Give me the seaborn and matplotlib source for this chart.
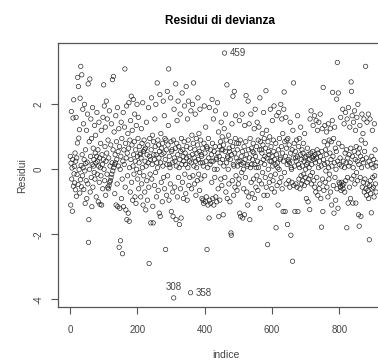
import numpy as np
import pandas as pd
import seaborn as sns
import matplotlib
matplotlib.use("Agg")
import matplotlib.pyplot as plt

residui = [
    0.40, -1.10, 0.19, 1.78, -0.30, 0.04, -1.29, 0.30, 1.58, -0.52,
    2.14, -0.14, 0.09, -0.42, 0.50, -0.63, 0.25, 1.60, -0.83, 0.35,
    -0.16, 0.81, 2.83, -0.47, 2.55, 0.96, -0.01, 1.22, -0.73, 2.19,
    -0.32, 3.17, 0.12, -0.54, 2.91, 0.45, -0.20, 1.85, 0.05, 1.40,
    -0.62, 0.30, 2.00, -0.05, -1.05, 0.60, 0.18, -0.35, 1.20, -0.90,
    0.22, 1.70, -0.45, 2.63, -2.25, -1.55, 0.85, 0.00, 2.78, -0.70,
    0.40, 1.55, -0.25, 0.95, -1.15, 0.15, 1.90, -0.55, 0.65, 0.10,
    0.30, -0.10, 1.35, -0.30, 0.50, 1.05, 0.20, -0.85, 0.40, 1.75,
    -0.15, 0.25, 0.60, -1.00, 0.10, 1.45, -0.40, 0.35, -1.08, 0.05,
    0.80, -0.20, 1.20, -1.10, 0.45, 0.15, -0.60, 1.60, 0.30, 2.60,
    0.00, 1.95, -0.35, 0.70, 1.30, -0.80, 0.25, 2.10, 0.50, -0.15,
    1.55, -0.55, 0.90, -0.60, 0.35, -0.50, 1.80, -0.40, 0.10, -0.35,
    0.75, -0.25, 1.40, -0.15, 0.20, 2.76, -0.05, 0.60, 2.86, 0.05,
    1.15, 0.15, -0.75, 0.45, 0.20, 1.65, -1.10, 0.85, 0.30, -0.45,
    1.90, -1.15, 0.55, 0.10, 1.25, -2.40, 0.70, -1.20, 0.00, -2.20,
    0.40, 1.45, -0.90, 0.95, -0.30, -2.60, 0.25, 1.75, -1.15, 0.60,
    0.15, 1.30, 3.09, -0.55, 0.80, -1.25, 0.35, 1.95, -1.55, 0.50,
    -0.20, 1.10, -1.35, 0.65, 2.05, -1.60, 0.05, 0.90, -0.70, 1.50,
    0.30, 2.25, -0.40, 0.75, 1.20, -0.95, 0.10, 2.15, 0.45, -0.15,
    0.85, 1.70, -0.85, 0.25, 0.60, -1.05, 1.35, 0.00, 2.00, 0.40,
    -0.30, 0.95, 1.60, -0.60, 0.20, 0.70, -0.10, 0.45, 0.50, -0.85,
    0.35, 1.25, -0.45, 0.80, 0.05, 2.05, -1.10, 0.55, -0.20, 0.90,
    0.60, -0.70, 0.25, 0.65, -1.25, 0.10, 1.45, -0.35, 0.45, -0.95,
    0.75, 0.20, 1.90, -0.55, -2.90, 0.40, 0.95, -0.15, 0.30, -1.65,
    0.60, 2.20, -0.30, 0.15, 1.05, -1.14, -1.65, 0.85, 0.45, 0.30,
    -0.50, 1.55, 0.70, -0.10, 2.00, 0.45, -0.85, 0.20, 2.66, 0.05,
    0.90, -0.65, 0.75, 0.35, -1.35, 0.55, 2.30, -1.45, 0.20, 1.10,
    -0.40, 0.65, 0.45, -1.00, 0.80, 0.10, 2.10, -0.25, 0.50, 1.65,
    -0.60, 0.95, 0.30, -2.47, 0.90, 0.60, -0.80, 0.15, 2.40, -0.20,
    0.75, 1.35, 3.09, -0.95, 0.40, 0.15, 0.05, -0.45, 2.20, 0.85,
    -1.30, 0.55, 0.60, 0.20, -0.70, -1.45, 0.90, -3.96, 1.85, 0.35,
    -0.55, 0.25, 0.65, 2.63, -1.55, 0.10, 0.80, 1.50, -0.85, 0.45,
    2.10, -0.25, 0.70, 0.05, -1.70, 0.30, 1.70, -0.60, 0.55, -1.50,
    0.95, 0.15, 2.35, -0.40, 0.60, 0.40, -0.90, 0.25, 0.85, 1.95,
    -0.15, 0.50, 0.15, -0.75, 2.55, 0.35, 0.70, -0.95, 1.55, 0.05,
    0.90, 2.10, -0.50, 0.40, 0.25, -0.25, 0.65, -3.80, 1.80, 0.20,
    -0.60, 1.05, 0.45, 2.00, -0.20, 0.80, 2.66, 0.10, 0.35, -0.45,
    0.60, 1.70, 0.25, -0.80, 0.95, 0.05, 0.50, -0.35, 0.75, 2.20,
    0.30, -0.15, 1.10, 0.55, -0.65, 1.85, 0.20, 0.90, -0.30, 0.45,
    0.40, -0.90, 0.65, 0.20, -0.95, 0.10, -1.05, 0.80, 1.95, -0.20,
    0.50, -1.00, 1.30, 0.25, -0.85, 0.70, -2.47, 0.65, 0.05, -1.10,
    0.95, 0.35, -1.50, 1.90, -0.95, 0.15, 0.60, -1.05, 0.25, 0.45,
    -0.40, 2.15, 0.80, -0.90, 0.25, 1.55, -1.10, 0.55, 0.00, -0.25,
    0.70, 1.80, -0.85, 0.30, 0.35, -1.00, 0.00, 2.05, 0.50, -0.60,
    1.15, -1.45, 0.40, 0.70, -0.95, 0.20, 0.85, -0.30, 1.45, 0.60,
    -0.50, 1.00, 0.30, 0.60, -1.40, 0.75, 0.10, 1.25, 3.58, -0.25,
    0.55, 1.70, -0.70, 0.90, 0.20, 2.60, -0.90, 0.40, 0.35, 0.00,
    1.05, -0.45, 0.65, 0.55, -1.00, 0.30, 0.85, -1.96, -2.03, 0.45,
    1.40, -0.35, 0.70, 2.25, 0.15, -0.80, 0.10, 2.40, 0.50, -0.55,
    0.95, 1.65, -0.20, 0.35, 0.80, -0.65, 0.60, 0.10, 0.25, -0.45,
    0.80, -0.30, 1.50, -1.35, 0.25, 0.90, -1.45, 0.15, 0.40, -0.10,
    1.70, 0.55, -1.50, 0.20, 0.00, -0.60, 0.70, -1.40, 1.35, 0.30,
    -0.25, 0.85, 2.27, 0.45, -0.70, 0.10, 0.15, -1.10, 2.10, 0.60,
    -0.85, 1.40, 0.35, -1.55, 0.95, 0.05, 1.70, -0.40, 0.65, 0.15,
    -0.75, 0.30, 0.55, 0.80, -0.30, 0.50, 1.25, -0.90, 0.15, 1.85,
    0.40, -0.55, 0.05, 0.70, -0.20, 1.45, 0.25, -0.65, 0.90, 0.05,
    1.30, -0.35, 0.60, 2.20, -1.20, 0.85, 0.20, 0.60, -0.45, 0.50,
    1.10, -0.10, 0.75, 0.30, 1.75, -0.80, 0.95, 0.15, 0.40, -0.25,
    0.65, 2.42, -0.55, 1.20, 0.35, -0.80, -2.32, 0.85, 0.00, 0.55,
    0.45, -0.40, 1.00, 0.25, 1.85, -0.20, 0.70, 0.25, -0.60, 0.40,
    1.50, 0.10, -0.35, 0.90, 0.55, 1.95, -0.70, 0.30, 0.15, -0.15,
    0.80, -1.80, 0.45, 1.65, -0.50, 0.20, 0.05, -1.10, 0.60, 1.75,
    0.00, 0.95, -0.40, 0.30, 0.35, 2.00, -0.25, 0.70, 1.55, -0.60,
    0.50, 1.10, -1.30, 0.25, 1.85, 2.38, -0.10, 0.85, -1.30, 0.40,
    1.60, -0.45, 0.65, 0.90, 0.15, -1.70, 0.95, 0.30, 0.25, -0.35,
    0.75, 0.20, -0.55, 1.45, 0.50, -2.03, 0.05, 0.00, -0.40, 0.60,
    -2.83, 1.20, 0.35, 2.66, -0.50, 0.80, 0.10, -1.30, 0.55, 0.35,
    -0.45, 0.25, 0.90, -0.55, 0.40, 1.65, -1.30, 0.15, 0.70, -0.30,
    0.95, 0.05, -0.60, 0.45, 1.30, -0.20, 0.30, -0.45, 0.60, 0.10,
    -0.35, 0.50, 0.80, -0.15, 0.25, -0.50, 1.10, 0.35, -0.25, 0.00,
    0.40, -0.90, 0.15, -0.40, 0.65, 0.20, -1.00, 0.45, -0.30, 0.05,
    0.30, -1.24, 1.55, -0.20, 0.50, 1.80, -0.45, 0.15, 0.35, -0.10,
    0.55, 1.35, 0.40, -0.35, 0.30, 1.65, -0.55, 0.45, 0.20, -0.70,
    1.50, 0.35, -0.25, 0.60, 1.20, -0.80, 0.50, 0.05, 1.45, -0.60,
    0.25, -0.45, 1.70, 0.40, -0.90, 0.10, -1.78, 0.55, 1.25, -0.30,
    -1.30, 2.52, 0.30, -0.65, 0.85, 0.15, 1.35, -0.40, 0.60, -0.05,
    0.45, 1.15, -0.55, 0.20, 0.75, -0.85, 1.40, 0.05, -0.30, 0.90,
    -0.15, 0.50, 1.25, -0.70, 0.30, 0.85, -1.10, 0.10, 1.50, 2.37,
    0.40, -0.50, 0.95, -1.35, 0.20, 1.30, -0.25, 0.65, -0.95, 0.00,
    0.55, 2.16, -0.60, 3.29, 0.25, -1.20, 2.35, 0.80, -0.40, 0.15,
    -0.45, 0.35, -0.55, 1.60, -0.65, 0.10, -0.40, 0.70, -0.50, 1.85,
    -0.60, 0.25, -0.45, 1.40, 0.05, -0.70, 0.50, 1.75, -0.35, 0.20,
    0.60, -1.80, 1.55, -0.25, 0.35, -1.04, 1.90, 0.10, 0.45, -0.55,
    1.30, 0.20, -0.90, 0.65, 2.69, 2.40, -0.30, 1.65, 0.40, -1.04,
    0.05, 1.45, -0.20, 0.55, 1.80, -0.45, 0.30, 1.20, -1.04, 0.70,
    -0.10, 1.60, 0.25, -0.35, 2.00, 0.50, -1.40, 0.15, -1.75, 0.65,
    1.35, -0.25, 0.40, -1.45, 0.90, 0.05, 1.70, -0.55, 0.30, 1.10,
    -0.40, 0.20, 1.55, -0.70, 0.55, -0.30, 0.80, 3.17, -0.60, 0.35,
    -0.80, 1.45, -0.45, 0.10, -0.65, 1.70, -0.90, 0.25, -2.17, -0.50,
    1.55, -0.35, -0.75, 0.15, -1.34, 0.40, -0.60, 1.20, -0.25, 0.05,
    -0.55, 0.30, -0.85, 1.40, -0.20, 0.60, -0.45, 0.10, -0.70, 0.20,
]
indice = list(range(1, len(residui) + 1))
etichette = [459, 308, 358]

df = pd.DataFrame({"indice": indice, "residui": residui})

sns.set_style("white")
plt.rcParams["font.family"] = ["Liberation Sans", "DejaVu Sans"]

fig = plt.figure(figsize=(3.78, 3.61), dpi=100)
ax = fig.add_axes([57.7 / 378, 1 - 307 / 361, (395 - 57.7) / 378, (307 - 43.3) / 361])

sns.scatterplot(data=df, x="indice", y="residui", ax=ax, marker="o", s=10,
                facecolor="none", edgecolor="#1a1a1a", linewidth=0.45)

txtc = "#444444"
for k in etichette:
    xv, yv = indice[k - 1], residui[k - 1]
    if k == 308:
        ax.annotate(str(k), (xv, yv), xytext=(0, 4), textcoords="offset points",
                    ha="center", va="bottom", fontsize=7, color=txtc)
    else:
        ax.annotate(str(k), (xv, yv), xytext=(4, 0), textcoords="offset points",
                    ha="left", va="center", fontsize=7, color=txtc)

ax.set_xlim(-36.5, (395 - 70) / 0.3367)
ax.set_ylim(-4.24, 3.88)
ax.set_xticks([0, 200, 400, 600, 800])
ax.set_yticks([-4, -2, 0, 2])
ax.set_yticklabels(["-4", "-2", "0", "2"], rotation=90, va="center")
ax.tick_params(axis="both", direction="out", length=5, width=0.8, color="#555555",
               labelsize=7, labelcolor=txtc, bottom=True, left=True)
ax.tick_params(axis="x", pad=8)
ax.tick_params(axis="y", pad=5)
for sp in ax.spines.values():
    sp.set_color("#555555")
    sp.set_linewidth(0.9)
ax.spines["right"].set_visible(False)

ax.set_xlabel("indice", fontsize=7.5, color=txtc, labelpad=11)
ax.set_ylabel("Residui", fontsize=7.5, color=txtc, labelpad=5)
ax.set_title("Residui di devianza", fontsize=8.5, fontweight="bold", color="black",
             pad=14, x=(220 - 57.7) / (395 - 57.7))

fig.savefig("out.png", dpi=100)
